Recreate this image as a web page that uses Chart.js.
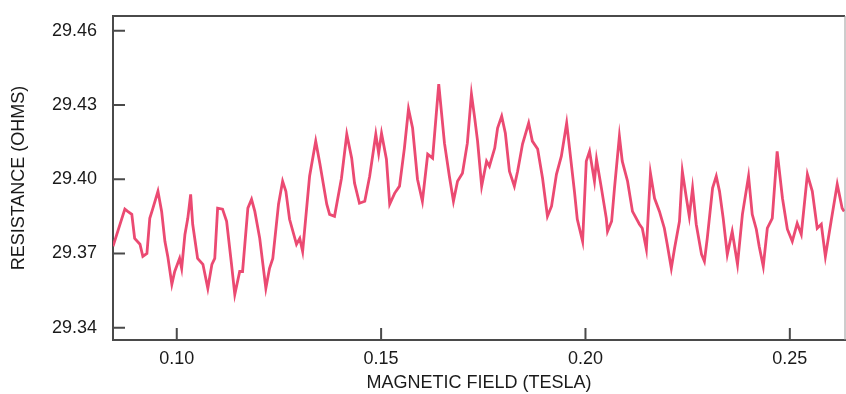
<!DOCTYPE html>
<html>
<head>
<meta charset="utf-8">
<script src="https://cdn.jsdelivr.net/npm/chart.js@4"></script>
<style>
  html, body { margin: 0; padding: 0; background: #fff; }
</style>
</head>
<body>
<canvas id="myChart" width="846" height="394"></canvas>
<script>
// magnetic field (tesla)
const field = [
  0.0844, 0.0873, 0.0880, 0.0890, 0.0897, 0.0910, 0.0917, 0.0927, 0.0934, 0.0941,
  0.0954, 0.0963, 0.0971, 0.0978, 0.0988, 0.0995, 0.1007, 0.1012, 0.1020, 0.1027,
  0.1034, 0.1039, 0.1051, 0.1064, 0.1076, 0.1086, 0.1093, 0.1100, 0.1112, 0.1122,
  0.1134, 0.1142, 0.1154, 0.1161, 0.1174, 0.1183, 0.1191, 0.1203, 0.1218, 0.1227,
  0.1235, 0.1249, 0.1259, 0.1267, 0.1276, 0.1293, 0.1301, 0.1308, 0.1325, 0.1340,
  0.1350, 0.1367, 0.1374, 0.1386, 0.1403, 0.1416, 0.1428, 0.1435, 0.1447, 0.1460,
  0.1472, 0.1487, 0.1494, 0.1501, 0.1513, 0.1521, 0.1533, 0.1545, 0.1557, 0.1567,
  0.1577, 0.1589, 0.1601, 0.1614, 0.1626, 0.1641, 0.1655, 0.1667, 0.1677, 0.1687,
  0.1699, 0.1711, 0.1721, 0.1729, 0.1736, 0.1746, 0.1758, 0.1765, 0.1778, 0.1785,
  0.1795, 0.1804, 0.1814, 0.1826, 0.1834, 0.1846, 0.1861, 0.1870, 0.1883, 0.1895,
  0.1907, 0.1917, 0.1929, 0.1941, 0.1954, 0.1961, 0.1973, 0.1980, 0.1993, 0.2002,
  0.2010, 0.2022, 0.2027, 0.2039, 0.2051, 0.2054, 0.2064, 0.2071, 0.2083, 0.2090,
  0.2103, 0.2115, 0.2132, 0.2139, 0.2149, 0.2159, 0.2169, 0.2181, 0.2193, 0.2200,
  0.2210, 0.2218, 0.2230, 0.2237, 0.2247, 0.2254, 0.2262, 0.2271, 0.2284, 0.2291,
  0.2298, 0.2311, 0.2320, 0.2328, 0.2337, 0.2347, 0.2359, 0.2372, 0.2384, 0.2399,
  0.2408, 0.2418, 0.2425, 0.2435, 0.2445, 0.2457, 0.2469, 0.2482, 0.2494, 0.2506,
  0.2518, 0.2528, 0.2543, 0.2555, 0.2567, 0.2577, 0.2587, 0.2601, 0.2616, 0.2628,
  0.2633
];

// resistance (ohms)
const resistance = [
  29.3729, 29.3879, 29.3870, 29.3858, 29.3761, 29.3737, 29.3688, 29.3700, 29.3842, 29.3879,
  29.3951, 29.3870, 29.3749, 29.3688, 29.3575, 29.3627, 29.3680, 29.3640, 29.3777, 29.3842,
  29.3939, 29.3818, 29.3680, 29.3656, 29.3559, 29.3656, 29.3680, 29.3883, 29.3879, 29.3830,
  29.3656, 29.3534, 29.3627, 29.3627, 29.3883, 29.3919, 29.3870, 29.3761, 29.3559, 29.3640,
  29.3680, 29.3899, 29.3992, 29.3951, 29.3838, 29.3737, 29.3761, 29.3708, 29.4012, 29.4154,
  29.4065, 29.3899, 29.3858, 29.3850, 29.4004, 29.4182, 29.4085, 29.3984, 29.3903, 29.3911,
  29.4012, 29.4182, 29.4105, 29.4186, 29.4081, 29.3899, 29.3943, 29.3972, 29.4126, 29.4284,
  29.4207, 29.4000, 29.3911, 29.4101, 29.4085, 29.4385, 29.4146, 29.4012, 29.3911, 29.3992,
  29.4024, 29.4146, 29.4344, 29.4247, 29.4154, 29.3972, 29.4073, 29.4053, 29.4126, 29.4207,
  29.4255, 29.4186, 29.4032, 29.3972, 29.4032, 29.4142, 29.4227, 29.4154, 29.4122, 29.4004,
  29.3850, 29.3891, 29.4020, 29.4093, 29.4227, 29.4126, 29.3951, 29.3838, 29.3749, 29.4073,
  29.4113, 29.3992, 29.4081, 29.3964, 29.3842, 29.3789, 29.3830, 29.3964, 29.4174, 29.4073,
  29.3992, 29.3870, 29.3818, 29.3802, 29.3717, 29.4024, 29.3923, 29.3870, 29.3802, 29.3737,
  29.3640, 29.3721, 29.3830, 29.4032, 29.3923, 29.3850, 29.3964, 29.3818, 29.3696, 29.3668,
  29.3761, 29.3964, 29.4012, 29.3951, 29.3842, 29.3696, 29.3789, 29.3656, 29.3858, 29.4012,
  29.3858, 29.3798, 29.3729, 29.3648, 29.3802, 29.3842, 29.4113, 29.3923, 29.3798, 29.3749,
  29.3822, 29.3777, 29.4020, 29.3951, 29.3802, 29.3818, 29.3688, 29.3830, 29.3980, 29.3883,
  29.3870
];

const xTicks = [0.10, 0.15, 0.20, 0.25];
const yTicks = [29.34, 29.37, 29.40, 29.43, 29.46];

const ink = "#1a1a1a";
const frameColor = "#4a4a4a";
const fontFamily = "'Liberation Sans', Arial, sans-serif";

// box round the plot and the short inward tick marks
const frame = {
  id: "frame",
  afterDatasetsDraw(chart) {
    const { ctx, chartArea: a, scales } = chart;
    ctx.save();
    ctx.strokeStyle = frameColor;
    ctx.lineWidth = 2;
    ctx.beginPath();
    ctx.moveTo(a.left, a.top);
    ctx.lineTo(a.right, a.top);
    yTicks.forEach((v) => {
      const py = scales.y.getPixelForValue(v);
      ctx.moveTo(a.left, py);
      ctx.lineTo(a.left + 12, py);
    });
    xTicks.forEach((v) => {
      const px = scales.x.getPixelForValue(v);
      ctx.moveTo(px, a.bottom);
      ctx.lineTo(px, a.bottom - 12);
    });
    ctx.stroke();
    ctx.strokeStyle = "#9a9a9a";
    ctx.lineWidth = 1;
    ctx.beginPath();
    ctx.moveTo(a.right, a.top);
    ctx.lineTo(a.right, a.bottom);
    ctx.stroke();
    ctx.restore();
  },
};

let myChart = new Chart(document.getElementById("myChart"), {
  type: "line",
  data: {
    datasets: [
      {
        data: field.map((f, i) => ({ x: f, y: resistance[i] })),
        borderColor: "#eb4a72",
        borderWidth: 2.8,
        pointRadius: 0,
        tension: 0,
        fill: false,
      },
    ],
  },
  options: {
    responsive: false,
    animation: false,
    devicePixelRatio: 1,
    layout: { padding: { top: 16, right: 1, left: 0, bottom: 0 } },
    plugins: {
      legend: { display: false },
      tooltip: { enabled: false },
    },
    scales: {
      x: {
        type: "linear",
        min: 0.0844,
        max: 0.2635,
        afterBuildTicks: (s) => { s.ticks = xTicks.map((v) => ({ value: v })); },
        afterFit: (s) => { s.height = 54; s.paddingLeft = 0; s.paddingRight = 0; },
        grid: { display: false, drawTicks: false },
        border: { display: true, color: frameColor, width: 2 },
        ticks: {
          padding: 8,
          color: ink,
          autoSkip: false,
          maxRotation: 0,
          font: { family: fontFamily, size: 18 },
          callback: (v) => v.toFixed(2),
        },
        title: {
          display: true,
          text: "MAGNETIC FIELD (TESLA)",
          color: ink,
          font: { family: fontFamily, size: 18 },
          padding: { top: 0, bottom: 0 },
        },
      },
      y: {
        min: 29.335,
        max: 29.466,
        afterBuildTicks: (s) => { s.ticks = yTicks.map((v) => ({ value: v })); },
        afterFit: (s) => { s.width = 113; s.paddingTop = 0; s.paddingBottom = 0; },
        grid: { display: false, drawTicks: false },
        border: { display: true, color: frameColor, width: 2 },
        ticks: {
          padding: 16,
          color: ink,
          autoSkip: false,
          font: { family: fontFamily, size: 18 },
          callback: (v) => v.toFixed(2),
        },
        title: {
          display: true,
          text: "RESISTANCE (OHMS)",
          color: ink,
          font: { family: fontFamily, size: 18 },
          padding: { top: 8, bottom: 0 },
        },
      },
    },
  },
  plugins: [frame],
});
</script>
</body>
</html>
